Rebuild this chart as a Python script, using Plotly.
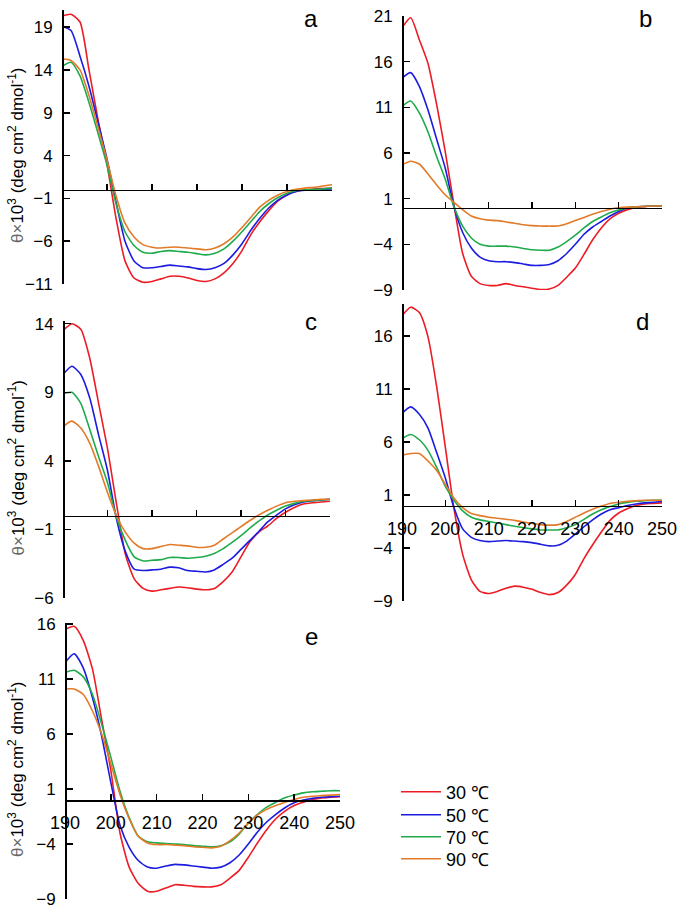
import plotly.graph_objects as go

# ---------------- data ----------------
wavelength = list(range(190, 251, 2))
temps = ["30 ℃", "50 ℃", "70 ℃", "90 ℃"]

a_30 = [20.3, 20.5, 19.6, 14.0, 8.2, 3.0, -3.3, -8.3, -10.3, -10.8, -10.7, -10.4, -10.1, -10.1, -10.3, -10.6,
        -10.7, -10.4, -9.7, -8.6, -7.1, -5.2, -3.7, -2.4, -1.3, -0.6, -0.2, 0.0, 0.1, 0.15, 0.2]
a_50 = [19.1, 18.6, 15.6, 12.1, 7.9, 3.6, -1.4, -6.0, -8.3, -9.1, -9.1, -8.95, -8.8, -8.9, -9.0, -9.2,
        -9.3, -9.1, -8.6, -7.6, -6.3, -4.7, -3.3, -2.1, -1.2, -0.6, -0.2, -0.05, 0.0, 0.05, 0.1]
a_70 = [14.4, 14.9, 13.3, 10.2, 6.6, 2.9, -1.6, -4.9, -6.5, -7.3, -7.4, -7.2, -7.1, -7.2, -7.3, -7.45,
        -7.6, -7.4, -6.9, -6.0, -4.9, -3.7, -2.5, -1.6, -0.9, -0.4, -0.1, 0.0, 0.05, 0.1, 0.2]
a_90 = [15.3, 15.1, 14.0, 11.0, 7.3, 3.5, -0.7, -3.9, -5.5, -6.4, -6.7, -6.8, -6.7, -6.7, -6.8, -6.9,
        -7.0, -6.8, -6.3, -5.5, -4.4, -3.2, -2.0, -1.2, -0.6, -0.2, 0.05, 0.2, 0.3, 0.45, 0.6]

b_30 = [19.7, 20.8, 18.4, 15.8, 11.3, 6.1, 0.3, -5.0, -7.5, -8.3, -8.5, -8.5, -8.3, -8.5, -8.65, -8.8,
        -8.95, -8.9, -8.5, -7.6, -6.6, -5.1, -3.5, -2.2, -1.2, -0.6, -0.2, 0.05, 0.15, 0.2, 0.2]
b_50 = [14.2, 14.8, 13.3, 10.7, 7.5, 4.3, 0.1, -2.7, -4.4, -5.4, -5.8, -5.9, -5.9, -6.0, -6.15, -6.3,
        -6.3, -6.2, -5.8, -5.0, -4.0, -2.9, -2.1, -1.5, -0.9, -0.4, 0.0, 0.1, 0.15, 0.2, 0.2]
b_70 = [11.1, 11.7, 10.4, 8.3, 5.6, 3.1, 0.1, -2.0, -3.3, -4.0, -4.2, -4.2, -4.2, -4.3, -4.45, -4.6,
        -4.65, -4.65, -4.3, -3.7, -3.0, -2.2, -1.5, -1.0, -0.55, -0.25, 0.0, 0.1, 0.15, 0.2, 0.2]
b_90 = [4.7, 5.1, 4.8, 3.7, 2.5, 1.4, 0.6, -0.2, -0.9, -1.2, -1.35, -1.4, -1.55, -1.7, -1.85, -1.95,
        -2.0, -2.0, -2.0, -1.75, -1.4, -1.05, -0.7, -0.4, -0.15, 0.0, 0.07, 0.1, 0.15, 0.2, 0.2]

c_30 = [13.5, 14.0, 13.6, 11.5, 8.2, 4.9, 0.9, -2.8, -4.6, -5.3, -5.5, -5.4, -5.3, -5.2, -5.25, -5.35,
        -5.4, -5.3, -4.8, -4.1, -3.0, -1.9, -1.2, -0.75, -0.2, 0.25, 0.6, 0.85, 0.95, 1.0, 1.05]
c_50 = [10.3, 10.9, 10.3, 8.6, 5.9, 3.3, -0.2, -2.6, -3.9, -4.0, -3.95, -3.9, -3.75, -3.8, -4.0, -4.05,
        -4.1, -3.95, -3.55, -3.1, -2.45, -1.8, -1.15, -0.45, 0.05, 0.5, 0.8, 1.0, 1.1, 1.15, 1.2]
c_70 = [8.9, 9.0, 8.2, 6.3, 4.3, 2.4, -0.1, -1.8, -3.0, -3.3, -3.25, -3.2, -3.05, -3.05, -3.1, -3.05,
        -2.95, -2.75, -2.4, -1.95, -1.45, -0.9, -0.4, 0.05, 0.4, 0.7, 0.9, 1.05, 1.1, 1.15, 1.2]
c_90 = [6.5, 6.9, 6.4, 5.3, 3.6, 1.7, 0.0, -1.2, -2.0, -2.4, -2.4, -2.25, -2.1, -2.15, -2.2, -2.3,
        -2.3, -2.15, -1.7, -1.25, -0.8, -0.35, 0.05, 0.4, 0.7, 0.95, 1.05, 1.1, 1.15, 1.2, 1.2]

d_30 = [17.9, 18.7, 18.2, 15.9, 11.2, 5.5, -0.3, -4.6, -7.0, -8.1, -8.3, -8.1, -7.8, -7.6, -7.7, -7.9,
        -8.2, -8.4, -8.2, -7.5, -6.5, -5.0, -3.7, -2.5, -1.4, -0.7, -0.3, 0.0, 0.15, 0.2, 0.25]
d_50 = [8.7, 9.3, 8.6, 7.3, 5.0, 2.6, -0.2, -2.2, -3.0, -3.3, -3.4, -3.35, -3.3, -3.35, -3.4, -3.5,
        -3.65, -3.8, -3.75, -3.35, -2.7, -2.0, -1.35, -0.8, -0.4, -0.2, 0.0, 0.15, 0.25, 0.3, 0.4]
d_70 = [6.3, 6.7, 6.2, 5.2, 3.6, 1.8, 0.5, -0.5, -1.1, -1.35, -1.5, -1.65, -1.8, -1.95, -2.1, -2.2,
        -2.3, -2.3, -2.3, -2.1, -1.8, -1.3, -0.8, -0.4, -0.1, 0.15, 0.3, 0.4, 0.45, 0.5, 0.5]
d_90 = [4.75, 4.9, 4.9, 4.2, 3.3, 2.0, 0.7, -0.2, -0.75, -0.95, -1.1, -1.2, -1.3, -1.4, -1.55, -1.7,
        -1.8, -1.85, -1.8, -1.5, -1.1, -0.7, -0.35, -0.05, 0.2, 0.3, 0.4, 0.45, 0.5, 0.5, 0.5]

e_30 = [15.5, 15.8, 14.5, 11.9, 7.3, 2.7, -3.0, -6.1, -7.6, -8.3, -8.3, -8.0, -7.7, -7.75, -7.85, -7.9,
        -7.9, -7.7, -7.1, -6.4, -5.2, -3.9, -2.7, -1.7, -1.0, -0.5, -0.2, 0.05, 0.2, 0.25, 0.3]
e_50 = [12.5, 13.3, 12.0, 9.3, 5.8, 1.6, -2.3, -4.3, -5.5, -6.1, -6.2, -6.0, -5.85, -5.9, -6.0, -6.1,
        -6.2, -6.1, -5.7, -5.0, -4.0, -2.9, -2.0, -1.3, -0.7, -0.25, 0.0, 0.15, 0.25, 0.3, 0.35]
e_70 = [11.6, 11.8, 11.2, 9.6, 6.9, 3.9, 0.8, -1.6, -3.3, -3.8, -3.9, -3.95, -4.0, -4.05, -4.15, -4.2,
        -4.25, -4.15, -3.8, -3.1, -2.1, -1.3, -0.65, -0.2, 0.2, 0.45, 0.65, 0.75, 0.8, 0.85, 0.85]
e_90 = [10.1, 10.1, 9.6, 8.1, 6.0, 3.3, 0.5, -1.7, -3.3, -3.9, -4.05, -4.05, -4.1, -4.15, -4.25, -4.3,
        -4.35, -4.2, -3.7, -3.0, -2.1, -1.35, -0.85, -0.5, -0.2, 0.05, 0.25, 0.35, 0.4, 0.45, 0.5]

panel_series = {
    "a": [a_30, a_50, a_70, a_90],
    "b": [b_30, b_50, b_70, b_90],
    "c": [c_30, c_50, c_70, c_90],
    "d": [d_30, d_50, d_70, d_90],
    "e": [e_30, e_50, e_70, e_90],
}
x_ticks = [190, 200, 210, 220, 230, 240, 250]
y_ticks = {
    "a": [-11, -6, -1, 4, 9, 14, 19],
    "b": [-9, -4, 1, 6, 11, 16, 21],
    "c": [-6, -1, 4, 9, 14],
    "d": [-9, -4, 1, 6, 11, 16],
    "e": [-9, -4, 1, 6, 11, 16],
}
y_ranges = {"a": (-11, 21), "b": (-9, 21), "c": (-6, 14.2), "d": (-9, 19), "e": (-9, 16.1)}

# ---------------- layout (pixel placement) ----------------
W, H = 685, 913
colors = ["#ec1c24", "#1c1ce0", "#1faa4c", "#e27a28"]
FONT = "Liberation Sans, Arial, sans-serif"

layout_px = {
    "a": dict(x=(62, 332), y=(10, 284), xlab=False, ytitle=True, letter=(311, 19)),
    "b": dict(x=(402, 662), y=(16, 290), xlab=False, ytitle=False, letter=(645, 19)),
    "c": dict(x=(63, 330), y=(321, 598), xlab=False, ytitle=True, letter=(311, 321)),
    "d": dict(x=(402, 662), y=(304, 601), xlab=True, ytitle=False, letter=(642, 321)),
    "e": dict(x=(65, 340), y=(623, 899), xlab=True, ytitle=True, letter=(311, 636)),
}
legend_rows_px = [792, 815, 837, 859]

def fx(px):
    return px / W

def fy(py):
    return 1 - py / H

fig = go.Figure()
annotations = []
lay = {}
legend_names = ["legend", "legend2", "legend3", "legend4"]
for i, (name, spec) in enumerate(layout_px.items()):
    k = "" if i == 0 else str(i + 1)
    xa, ya = "x" + k, "y" + k
    for j, series in enumerate(panel_series[name]):
        fig.add_trace(go.Scatter(
            x=wavelength, y=series, mode="lines", name=temps[j],
            line=dict(color=colors[j], width=1.6, shape="spline", smoothing=0.6),
            xaxis=xa, yaxis=ya, showlegend=(name == "a"), legend=legend_names[j],
            hoverinfo="skip"))
    ymin, ymax = y_ranges[name]
    yd0, yd1 = fy(spec["y"][1]), fy(spec["y"][0])
    zero_pos = yd0 + (0 - ymin) / (ymax - ymin) * (yd1 - yd0)
    lay["xaxis" + k] = dict(
        domain=[fx(spec["x"][0]), fx(spec["x"][1])], range=[190, 250],
        anchor="free", position=zero_pos, showgrid=False, zeroline=False,
        showline=True, linecolor="black", linewidth=1.5, automargin=False,
        ticks="inside", ticklen=6, tickwidth=1.5, tickcolor="black",
        tickvals=x_ticks, showticklabels=spec["xlab"], ticklabelstandoff=6,
        tickfont=dict(family=FONT, size=18, color="black"))
    lay["yaxis" + k] = dict(
        domain=[yd0, yd1], range=[ymin, ymax], anchor="free",
        position=fx(spec["x"][0]), showgrid=False, zeroline=False,
        showline=True, linecolor="black", linewidth=1.5, automargin=False,
        ticks="inside", ticklen=6, tickwidth=1.5, tickcolor="black",
        tickvals=y_ticks[name], ticklabelstandoff=6,
        tickfont=dict(family=FONT, size=17, color="black"))
    annotations.append(dict(
        text=name, x=fx(spec["letter"][0]), y=fy(spec["letter"][1]),
        xref="paper", yref="paper", showarrow=False, xanchor="center", yanchor="middle",
        font=dict(family=FONT, size=24, color="black")))
    if spec["ytitle"]:
        annotations.append(dict(
            text='<span style="color:#666">θ×</span>10<sup>3</sup> (deg cm<sup>2</sup> dmol<sup>-1</sup>)',
            x=fx(16), y=fy((spec["y"][0] + spec["y"][1]) / 2 + 8),
            xref="paper", yref="paper", showarrow=False, textangle=-90,
            xanchor="center", yanchor="middle",
            font=dict(family=FONT, size=17, color="black")))

for j, ln in enumerate(legend_names):
    lay[ln] = dict(x=fx(396), y=fy(legend_rows_px[j]), xanchor="left", yanchor="middle",
                   font=dict(family=FONT, size=18, color="black"),
                   bgcolor="rgba(0,0,0,0)", borderwidth=0, itemwidth=40)

fig.update_layout(
    template="none",
    width=W, height=H, margin=dict(l=0, r=0, t=0, b=0, autoexpand=False),
    paper_bgcolor="white", plot_bgcolor="rgba(0,0,0,0)",
    annotations=annotations, showlegend=True, hovermode=False,
    **lay)

fig.write_html("out.html", config={"displayModeBar": False, "staticPlot": True},
               post_script="document.body.style.margin='0';")
